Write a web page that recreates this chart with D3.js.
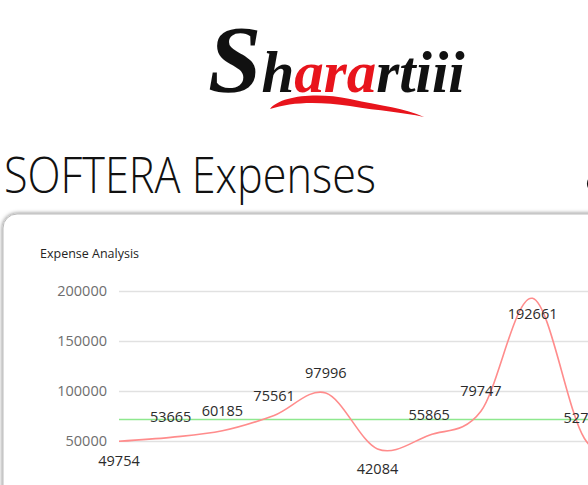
<!DOCTYPE html>
<html>
<head>
<meta charset="utf-8">
<script src="https://cdn.jsdelivr.net/npm/d3@7"></script>
<style>
  body { margin: 0; background: #fff; overflow: hidden; }
  svg { display: block; }
  text { font-family: "Open Sans", "Segoe UI", sans-serif; }
</style>
</head>
<body>
<svg id="page" width="588" height="485"></svg>
<script>
// monthly expense values (only Jan..Oct are in view, Nov is estimated)
var months = ["Jan", "Feb", "Mar", "Apr", "May", "Jun", "Jul", "Aug", "Sep", "Oct", "Nov"];
var expenses = [49754, 53665, 60185, 75561, 97996, 42084, 55865, 79747, 192661, 52750, 26230];
var yTicks = [0, 50000, 100000, 150000, 200000];
var pageTitle = "SOFTERA Expenses";
var cardTitle = "Expense Analysis";

var svg = d3.select("#page");

var defs = svg.append("defs");
var shadow = defs.append("filter").attr("id", "shadow")
  .attr("x", "-5%").attr("y", "-5%").attr("width", "110%").attr("height", "110%");
shadow.append("feDropShadow")
  .attr("dx", 0).attr("dy", 0).attr("stdDeviation", 2.2)
  .attr("flood-color", "#000").attr("flood-opacity", 0.55);

// logo
var logo = svg.append("g").attr("class", "logo");
var logoText = logo.append("text")
  .attr("x", 208).attr("y", 92)
  .style("font-family", "'Liberation Serif', 'DejaVu Serif', serif")
  .style("font-style", "italic").style("font-weight", "bold")
  .style("font-size", "59px");
logoText.append("tspan").text("S").attr("fill", "#111").style("font-size", "96px");
logoText.append("tspan").text("h").attr("fill", "#111");
logoText.append("tspan").text("ara").attr("fill", "#e8141c");
logoText.append("tspan").text("rtiii").attr("fill", "#111");
logo.append("path")
  .attr("fill", "#e8141c")
  .attr("d", "M270,109 C280,96 316,92 350,99 C382,106 405,108 424,117 " +
             "C402,112 380,111 350,106 C318,101 290,102 270,109 Z");

// page heading (and the next heading cut off on the right)
svg.append("text")
  .attr("x", 4).attr("y", 193)
  .attr("textLength", 372).attr("lengthAdjust", "spacingAndGlyphs")
  .style("font-size", "50px").style("font-weight", 300).attr("fill", "#111")
  .text(pageTitle);
svg.append("text")
  .attr("x", 584).attr("y", 193)
  .style("font-size", "50px").style("font-weight", 300).attr("fill", "#111")
  .text("8");

// card
svg.append("rect")
  .attr("x", 3).attr("y", 214).attr("width", 800).attr("height", 400)
  .attr("rx", 14).attr("ry", 14)
  .attr("fill", "#fff").attr("stroke", "#bbb").attr("stroke-width", 1)
  .attr("filter", "url(#shadow)");

svg.append("text")
  .attr("x", 40).attr("y", 258)
  .style("font-size", "12.5px").attr("fill", "#252423")
  .text(cardTitle);

// scales
var x = d3.scalePoint().domain(months).range([119, 119 + 51.7 * (months.length - 1)]);
var y = d3.scaleLinear().domain([0, 200000]).range([491, 291]);

// y axis with gridlines
var yAxis = svg.append("g")
  .attr("transform", "translate(119,0)")
  .call(d3.axisLeft(y).tickValues(yTicks).tickSize(-700).tickPadding(12).tickFormat(d3.format("d")));
yAxis.select(".domain").remove();
yAxis.selectAll(".tick line").attr("stroke", "#e1e1e1").attr("stroke-width", 1.6);
yAxis.selectAll(".tick text")
  .attr("fill", "#6e6e6e").style("font-size", "14.5px")
  .style("font-family", "'Open Sans', 'Segoe UI', sans-serif");

// average line
var avg = d3.mean(expenses);
svg.append("line")
  .attr("x1", 119).attr("x2", 900)
  .attr("y1", y(avg)).attr("y2", y(avg))
  .attr("stroke", "#8ee88e").attr("stroke-width", 1.6);

// expense line
var line = d3.line()
  .x(function(d, i) { return x(months[i]); })
  .y(function(d) { return y(d); })
  .curve(d3.curveCardinal.tension(0));
svg.append("path")
  .datum(expenses)
  .attr("fill", "none")
  .attr("stroke", "#ff8c8c").attr("stroke-width", 1.6)
  .attr("d", line);

// data labels: below the point for local minima or when above would leave the plot
function labelOffset(d, i) {
  var prev = i > 0 ? expenses[i - 1] : Infinity;
  var next = i < expenses.length - 1 ? expenses[i + 1] : Infinity;
  if (y(d) - 28 < y(200000) - 8) return 16;
  if (d < prev && d < next) return 20;
  return -20;
}
svg.append("g").selectAll("text")
  .data(expenses)
  .enter().append("text")
  .attr("x", function(d, i) { return x(months[i]); })
  .attr("y", function(d, i) { return y(d) + labelOffset(d, i); })
  .attr("dy", "0.35em")
  .attr("text-anchor", "middle")
  .style("font-size", "14.5px")
  .attr("fill", "#2b2b2b")
  .text(function(d) { return d; });
</script>
</body>
</html>
